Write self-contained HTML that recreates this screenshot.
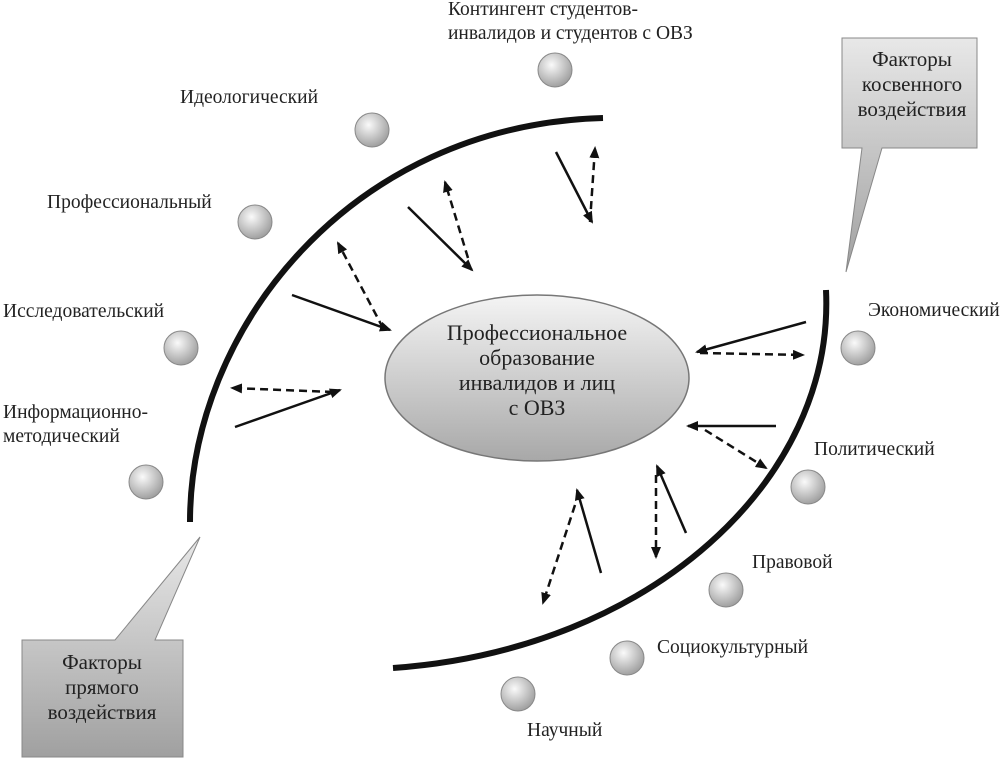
<!DOCTYPE html>
<html><head><meta charset="utf-8"><style>
body{margin:0;background:#fff}
svg text{font-family:"Liberation Serif",serif;font-size:19.5px;fill:#222}
</style></head><body>
<svg width="1003" height="761" viewBox="0 0 1003 761" xmlns="http://www.w3.org/2000/svg">
<defs>
<radialGradient id="ball" cx="40%" cy="35%" r="70%"><stop offset="0" stop-color="#fafafa"/><stop offset="1" stop-color="#9a9a9a"/></radialGradient>
<linearGradient id="ell" x1="0" y1="0" x2="0" y2="1"><stop offset="0" stop-color="#f4f4f4"/><stop offset="1" stop-color="#a8a8a8"/></linearGradient>
<linearGradient id="box" x1="0" y1="0" x2="0" y2="1"><stop offset="0" stop-color="#e8e8e8"/><stop offset="1" stop-color="#a0a0a0"/></linearGradient>
<marker id="ah" markerWidth="12" markerHeight="10" refX="10" refY="5" orient="auto" markerUnits="userSpaceOnUse"><path d="M0,0 L12,5 L0,10 z" fill="#111"/></marker>
</defs>
<path d="M603,118 C350,125 190,330 190,522" fill="none" stroke="#111" stroke-width="6"/>
<path d="M826,290 C835,480 650,650 393,668" fill="none" stroke="#111" stroke-width="6"/>
<ellipse cx="537" cy="378" rx="152" ry="83" fill="url(#ell)" stroke="#777" stroke-width="1.5"/>
<text text-anchor="middle" style="font-size:22px"><tspan x="537" y="340">Профессиональное</tspan><tspan x="537" y="365">образование</tspan><tspan x="537" y="390">инвалидов и лиц</tspan><tspan x="537" y="415">с ОВЗ</tspan></text>
<path d="M842,38 L977,38 L977,148 L882,148 L846,272 L862,148 L842,148 Z" fill="url(#box)" stroke="#888"/>
<text text-anchor="middle" style="font-size:21px"><tspan x="912" y="66">Факторы</tspan><tspan x="912" y="91">косвенного</tspan><tspan x="912" y="116">воздействия</tspan></text>
<path d="M22,640 L115,640 L200,537 L155,640 L183,640 L183,757 L22,757 Z" fill="url(#box)" stroke="#888"/>
<text text-anchor="middle" style="font-size:21px"><tspan x="102" y="669">Факторы</tspan><tspan x="102" y="694">прямого</tspan><tspan x="102" y="719">воздействия</tspan></text>
<g fill="url(#ball)" stroke="#888">
<circle cx="555" cy="70" r="17"/><circle cx="372" cy="130" r="17"/><circle cx="255" cy="222" r="17"/><circle cx="181" cy="348" r="17"/><circle cx="146" cy="482" r="17"/><circle cx="858" cy="348" r="17"/><circle cx="808" cy="487" r="17"/><circle cx="726" cy="590" r="17"/><circle cx="627" cy="658" r="17"/><circle cx="518" cy="694" r="17"/>
</g>
<g stroke="#111" stroke-width="2.5" fill="none" marker-end="url(#ah)">
<line x1="556" y1="152" x2="592" y2="222"/>
<line x1="408" y1="207" x2="472" y2="270"/>
<line x1="292" y1="295" x2="390" y2="330"/>
<line x1="235" y1="427" x2="340" y2="390"/>
<line x1="806" y1="322" x2="697" y2="352"/>
<line x1="776" y1="426" x2="688" y2="426"/>
<line x1="686" y1="533" x2="657" y2="466"/>
<line x1="601" y1="573" x2="577" y2="490"/>
</g>
<g stroke="#111" stroke-width="2.5" fill="none" stroke-dasharray="8,5" marker-end="url(#ah)">
<line x1="590" y1="222" x2="595" y2="148"/>
<line x1="468" y1="258" x2="445" y2="182"/>
<line x1="383" y1="328" x2="338" y2="243"/>
<line x1="333" y1="392" x2="232" y2="388"/>
<line x1="700" y1="353" x2="803" y2="355"/>
<line x1="705" y1="430" x2="766" y2="468"/>
<line x1="656" y1="475" x2="656" y2="557"/>
<line x1="575" y1="505" x2="543" y2="603"/>
</g>
<text x="448" y="15">Контингент студентов-</text>
<text x="448" y="39">инвалидов и студентов с ОВЗ</text>
<text x="180" y="103">Идеологический</text>
<text x="47" y="208">Профессиональный</text>
<text x="3" y="317">Исследовательский</text>
<text x="3" y="418">Информационно-</text>
<text x="3" y="442">методический</text>
<text x="868" y="316">Экономический</text>
<text x="814" y="455">Политический</text>
<text x="752" y="568">Правовой</text>
<text x="657" y="653">Социокультурный</text>
<text x="527" y="736">Научный</text>
</svg>
</body></html>
